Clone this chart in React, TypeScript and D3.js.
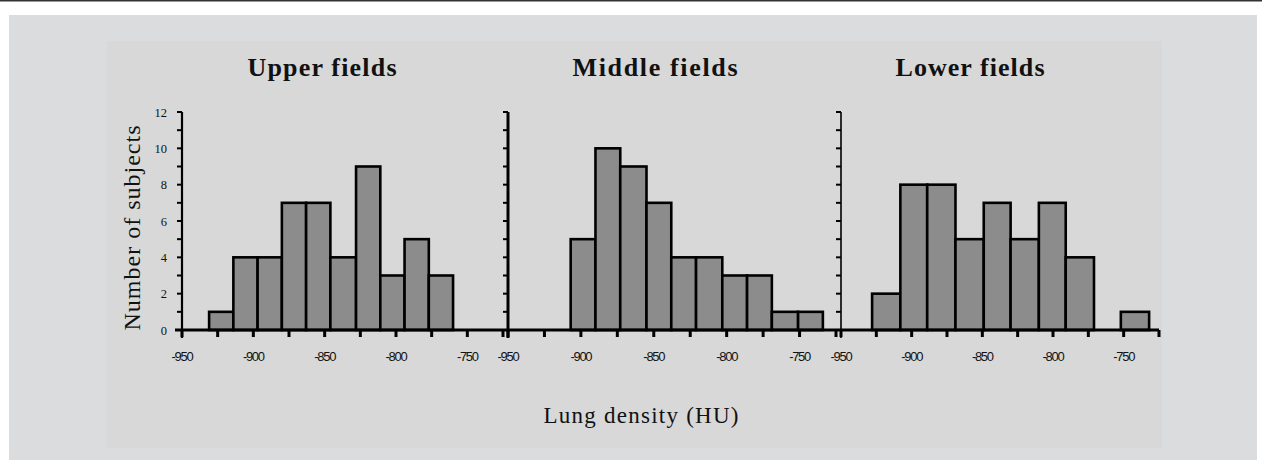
import React from "react";
import * as d3 from "d3";

// histogram counts, one array per lung field
const panelTitles = ["Upper fields", "Middle fields", "Lower fields"];
const upperCounts = [1, 4, 4, 7, 7, 4, 9, 3, 5, 3];
const middleCounts = [5, 10, 9, 7, 4, 4, 3, 3, 1, 1];
const lowerCounts = [2, 8, 8, 5, 7, 5, 7, 4, 0, 1];

// bin edges (HU)
const upperEdges = [-931, -914, -897, -880, -863, -846, -828, -811, -794, -777, -760];
const middleEdges = [-907, -890, -873, -855, -838, -821, -803, -786, -769, -751, -734];
const lowerEdges = [-928, -908, -889, -869, -849, -830, -810, -791, -771, -752, -732];

const xTickLabels = [-950, -900, -850, -800, -750];
const xMinorTicks = [-950, -925, -900, -875, -850, -825, -800, -775, -750, -725];
const yTickLabels = [0, 2, 4, 6, 8, 10, 12];
const yMinorTicks = [0, 1, 2, 3, 4, 5, 6, 7, 8, 9, 10, 11, 12];

const W = 1262;
const H = 460;
const y0 = 330;
const yTop = 112;
const serif = "'Liberation Serif', serif";

const panels = [
  { title: panelTitles[0], counts: upperCounts, edges: upperEdges, x0: 182, x1: 503, end: 507, titleX: 322, titleW: 149, axisW: 2.2 },
  { title: panelTitles[1], counts: middleCounts, edges: middleEdges, x0: 508, x1: 836, end: 842, titleX: 655, titleW: 165, axisW: 3 },
  { title: panelTitles[2], counts: lowerCounts, edges: lowerEdges, x0: 841, x1: 1159, end: 1159, titleX: 970, titleW: 149, axisW: 1.6 },
];

const Panel = ({ p, first }: { p: any; first: boolean }) => {
  const x = d3.scaleLinear().domain([-950, -725]).range([p.x0, p.x1]);
  const y = d3.scaleLinear().domain([0, 12]).range([y0, yTop]);
  const bins = p.counts.map((c: number, i: number) => ({ c, a: p.edges[i], b: p.edges[i + 1] }));
  return (
    <g>
      <text x={p.titleX} y={76} textAnchor="middle" fontFamily={serif} fontWeight="bold" fontSize={26}
        textLength={p.titleW} lengthAdjust="spacing" fill="#111">
        {p.title}
      </text>
      {bins.filter((d: any) => d.c > 0).map((d: any, i: number) => (
        <rect key={i} x={x(d.a)} y={y(d.c)} width={x(d.b) - x(d.a)} height={y0 - y(d.c)}
          fill="#8c8c8c" stroke="#000" strokeWidth={2.6} />
      ))}
      {/* baseline */}
      <line x1={first ? p.x0 - 7 : p.x0} x2={p.end} y1={y0} y2={y0} stroke="#000" strokeWidth={3} />
      {/* y axis */}
      <line x1={p.x0} x2={p.x0} y1={yTop} y2={y0 + 8} stroke="#000" strokeWidth={p.axisW} />
      {yMinorTicks.map((t) => (
        <line key={t} x1={p.x0 - 5} x2={p.x0} y1={y(t)} y2={y(t)} stroke="#000" strokeWidth={2} />
      ))}
      {first && yTickLabels.map((t) => (
        <text key={t} x={167} y={y(t) + 4.5} textAnchor="end" fontFamily={serif} fontSize={12.5} fill="#111">
          {t}
        </text>
      ))}
      {xMinorTicks.map((t) => (
        <line key={t} x1={x(t)} x2={x(t)} y1={y0} y2={y0 + 7} stroke="#000" strokeWidth={3} />
      ))}
      {xTickLabels.map((t) => (
        <text key={t} x={x(t)} y={361} textAnchor="middle" fontFamily="'Liberation Sans', Arial, sans-serif" fontSize={13} letterSpacing={-1.3} fill="#111">
          {t}
        </text>
      ))}
    </g>
  );
};

export default function App() {
  return (
    <svg width={W} height={H} style={{ position: "absolute", left: 0, top: 0, background: "#fff" }}>
      <rect x={0} y={0} width={W} height={1.5} fill="#333" />
      <rect x={9} y={15} width={1248} height={H - 15} fill="#dbdcde" />
      <rect x={107} y={41} width={1055} height={407} fill="#d8d8d8" />
      {panels.map((p, i) => (
        <Panel key={i} p={p} first={i === 0} />
      ))}
      <text transform="translate(140,228) rotate(-90)" textAnchor="middle" fontFamily={serif} fontSize={24}
        textLength={205} lengthAdjust="spacing" fill="#111">
        Number of subjects
      </text>
      <text x={641} y={423} textAnchor="middle" fontFamily={serif} fontSize={23}
        textLength={195} lengthAdjust="spacing" fill="#111">
        Lung density (HU)
      </text>
    </svg>
  );
}
